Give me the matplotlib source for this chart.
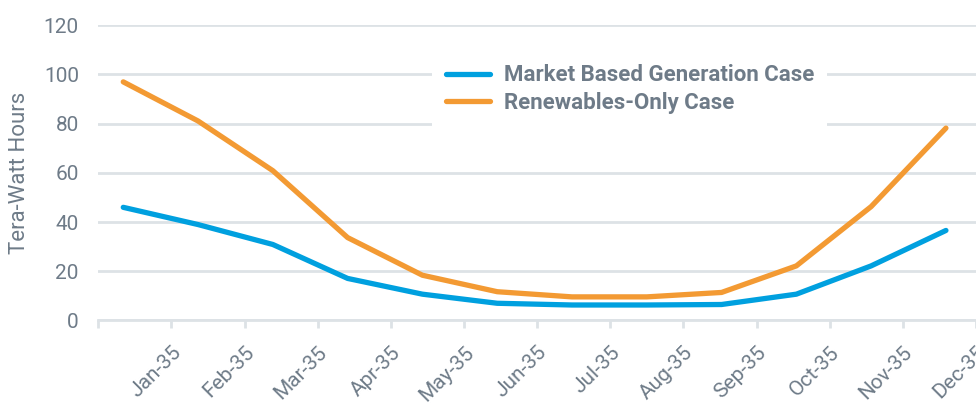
import matplotlib
matplotlib.use('Agg')
import matplotlib.pyplot as plt
import numpy as np

# data
months = ['Jan-35', 'Feb-35', 'Mar-35', 'Apr-35', 'May-35', 'Jun-35',
          'Jul-35', 'Aug-35', 'Sep-35', 'Oct-35', 'Nov-35', 'Dec-35']
market_based = [46.0, 39.0, 30.9, 17.1, 10.7, 7.0, 6.3, 6.3, 6.5, 10.7, 22.2, 36.6]
renewables_only = [97.0, 81.1, 60.9, 33.7, 18.4, 11.7, 9.6, 9.6, 11.4, 22.2, 46.3, 78.2]
series_names = ['Market Based Generation Case', 'Renewables-Only Case']

blue = '#00a0df'
orange = '#f39a33'
grid_col = '#dde2e6'
text_col = '#6e7b88'

plt.rcParams['font.family'] = ['Roboto', 'DejaVu Sans']

fig = plt.figure(figsize=(9.76, 4.04), dpi=100)
ax = fig.add_axes([0.1007, 0.2067, 0.8993, 0.7307])

x = np.arange(len(months))
ax.plot(x, market_based, color=blue, lw=3.8, solid_capstyle='round',
        solid_joinstyle='round', label=series_names[0], zorder=3)
ax.plot(x, renewables_only, color=orange, lw=3.8, solid_capstyle='round',
        solid_joinstyle='round', label=series_names[1], zorder=3)

# ticks sit on month boundaries, slightly narrower than the point spacing
step = 0.978
start = -0.334
ticks = start + step * np.arange(13)
ax.set_xlim(start, 11.39)
ax.set_xticks(ticks)
ax.set_xticklabels([''] + months, rotation=45, ha='right', va='top',
                   rotation_mode='anchor', fontsize=15, color=text_col)
ax.tick_params(axis='x', length=6, width=2, color=grid_col, pad=10)

ax.set_ylim(0, 120)
ax.set_yticks(np.arange(0, 121, 20))
ax.set_yticklabels([str(v) for v in range(0, 121, 20)], fontsize=15,
                   color=text_col)
ax.tick_params(axis='y', length=0, pad=14)
ax.yaxis.grid(True, color=grid_col, lw=2)
ax.set_axisbelow(True)

for s in ['top', 'right', 'left']:
    ax.spines[s].set_visible(False)
ax.spines['bottom'].set_color(grid_col)
ax.spines['bottom'].set_linewidth(2)

ax.set_ylabel('Tera-Watt Hours', fontsize=16, color=text_col, labelpad=10)

leg = ax.legend(loc='upper left', bbox_to_anchor=(0.368, 0.95), frameon=True,
                facecolor='white', edgecolor='none', framealpha=1,
                fancybox=False, handlelength=2.0, handletextpad=0.6,
                labelspacing=0.25, borderpad=0.6,
                prop={'size': 16, 'weight': 'bold'})
for t in leg.get_texts():
    t.set_color(text_col)

fig.savefig('out.png', dpi=100)
